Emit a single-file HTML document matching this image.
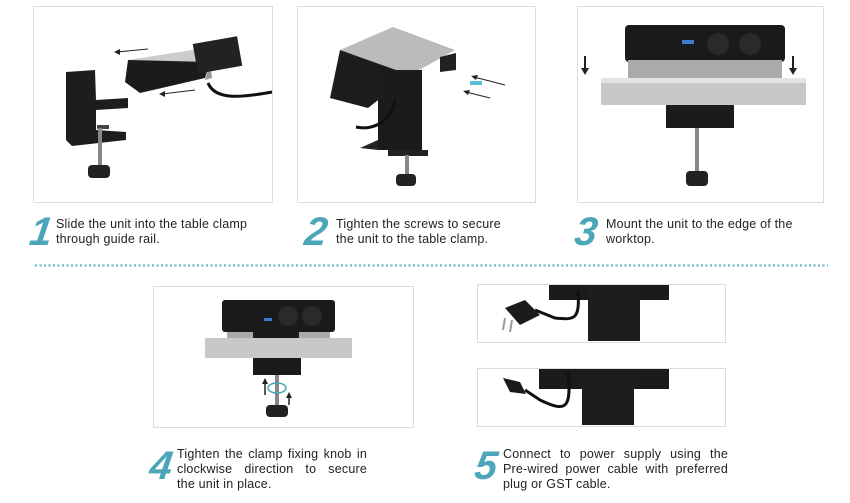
<!DOCTYPE html>
<html><head><meta charset="utf-8"><style>
body{margin:0;width:850px;height:503px;background:#fff;position:relative;overflow:hidden;font-family:"Liberation Sans",sans-serif}
.box{position:absolute;border:1px solid #dcdcdc;background:#fff}
.num{position:absolute;font:italic bold 40px "Liberation Sans",sans-serif;color:#4aa6b8;transform:skewX(-8deg)}
.t{position:absolute;font-size:12.5px;line-height:15px;color:#222;letter-spacing:0.2px}
.j{text-align:justify;text-align-last:justify;white-space:nowrap}
.j div{text-align:justify;text-align-last:justify}
.j div.l{text-align-last:left}
svg{position:absolute;left:0;top:0}
</style></head><body>
<div class="box" style="left:33px;top:6px;width:238px;height:195px"></div>
<div class="box" style="left:297px;top:6px;width:237px;height:195px"></div>
<div class="box" style="left:577px;top:6px;width:245px;height:195px"></div>
<div class="box" style="left:153px;top:286px;width:259px;height:140px"></div>
<div class="box" style="left:477px;top:284px;width:247px;height:57px"></div>
<div class="box" style="left:477px;top:368px;width:247px;height:57px"></div>

<svg width="850" height="503">
<g>
<polygon points="128,60 205,48 210,62 133,73" fill="#ccc"/>
<polygon points="128,60 125,82 140,93 205,78 210,62" fill="#1b1b1b"/>
<polygon points="210,62 212,78 205,80" fill="#999"/>
<rect x="195" y="40" width="45" height="30" fill="#222" transform="rotate(-10 217 55)"/>
<path d="M208,83 C215,100 240,98 272,92" stroke="#111" stroke-width="3" fill="none"/>
<polygon points="66,72 95,70 96,100 128,98 128,108 96,110 96,130 126,132 126,140 72,146 66,140" fill="#1d1d1d"/>
<rect x="97" y="125" width="12" height="4" fill="#444"/>
<rect x="98" y="128" width="4" height="37" fill="#888"/>
<rect x="88" y="165" width="22" height="13" rx="4" fill="#222"/>
<line x1="148" y1="49" x2="117" y2="52" stroke="#222"/><polygon points="114,52 120,49 120,55" fill="#222"/>
<line x1="195" y1="90" x2="162" y2="94" stroke="#222"/><polygon points="159,94 165,91 165,97" fill="#222"/>
</g>
<g>
<polygon points="340,50 393,27 455,50 410,75" fill="#bbb"/>
<polygon points="340,50 330,98 368,108 410,75" fill="#1d1d1d"/>
<rect x="378" y="70" width="44" height="80" fill="#1b1b1b"/>
<polygon points="378,140 360,148 378,150" fill="#222"/>
<polygon points="440,57 456,53 456,70 440,72" fill="#222"/>
<path d="M395,100 C390,125 370,130 356,127" stroke="#111" stroke-width="3" fill="none"/>
<rect x="388" y="150" width="40" height="6" fill="#222"/>
<rect x="405" y="155" width="4" height="20" fill="#888"/>
<rect x="396" y="174" width="20" height="12" rx="4" fill="#222"/>
<line x1="505" y1="85" x2="474" y2="77" stroke="#222"/><polygon points="471,76 478,75 476,80" fill="#222"/>
<line x1="490" y1="98" x2="466" y2="92" stroke="#222"/><polygon points="463,91 470,90 468,95" fill="#222"/>
<rect x="470" y="81" width="12" height="4" fill="#5bc0d6"/>
</g>
<g>
<rect x="625" y="25" width="160" height="37" rx="4" fill="#1a1a1a"/>
<circle cx="718" cy="44" r="11" fill="#2a2a2a"/><circle cx="750" cy="44" r="11" fill="#2a2a2a"/>
<rect x="682" y="40" width="12" height="4" fill="#3a7ad0"/>
<rect x="628" y="60" width="154" height="18" fill="#aaa"/>
<rect x="601" y="78" width="205" height="27" fill="#c8c8c8"/>
<rect x="601" y="78" width="205" height="5" fill="#e4e4e4"/>
<rect x="666" y="105" width="68" height="23" fill="#1b1b1b"/>
<rect x="695" y="128" width="4" height="43" fill="#888"/>
<rect x="686" y="171" width="22" height="15" rx="4" fill="#222"/>
<line x1="585" y1="56" x2="585" y2="70" stroke="#222" stroke-width="2"/><polygon points="581,68 589,68 585,75" fill="#222"/>
<line x1="793" y1="56" x2="793" y2="70" stroke="#222" stroke-width="2"/><polygon points="789,68 797,68 793,75" fill="#222"/>
</g>
<g>
<rect x="222" y="300" width="113" height="32" rx="3" fill="#1a1a1a"/>
<circle cx="288" cy="316" r="10" fill="#2a2a2a"/><circle cx="312" cy="316" r="10" fill="#2a2a2a"/>
<rect x="264" y="318" width="8" height="3" fill="#3a7ad0"/>
<rect x="227" y="332" width="103" height="10" fill="#aaa"/>
<rect x="253" y="330" width="46" height="12" fill="#1b1b1b"/>
<rect x="205" y="338" width="147" height="20" fill="#c8c8c8"/>
<rect x="253" y="358" width="48" height="17" fill="#1b1b1b"/>
<rect x="275" y="375" width="4" height="30" fill="#888"/>
<rect x="266" y="405" width="22" height="12" rx="4" fill="#222"/>
<line x1="265" y1="395" x2="265" y2="382" stroke="#222" stroke-width="1.5"/><polygon points="262,384 268,384 265,378" fill="#222"/>
<line x1="289" y1="405" x2="289" y2="396" stroke="#222" stroke-width="1.5"/><polygon points="286,398 292,398 289,392" fill="#222"/>
<ellipse cx="277" cy="388" rx="9" ry="5" fill="none" stroke="#4aa6b8" stroke-width="1.5"/>
</g>
<g>
<rect x="549" y="285" width="120" height="15" fill="#1b1b1b"/>
<rect x="588" y="285" width="52" height="56" fill="#1d1d1d"/>
<path d="M578,290 C580,320 575,320 555,318 L535,310" stroke="#111" stroke-width="3" fill="none"/>
<polygon points="505,308 525,300 540,315 520,325" fill="#1b1b1b"/>
<line x1="505" y1="318" x2="503" y2="330" stroke="#999" stroke-width="2"/><line x1="512" y1="320" x2="510" y2="332" stroke="#999" stroke-width="2"/>
<rect x="539" y="369" width="130" height="20" fill="#1b1b1b"/>
<rect x="582" y="369" width="52" height="56" fill="#1d1d1d"/>
<path d="M568,373 C572,410 565,412 540,400 L525,390" stroke="#111" stroke-width="3" fill="none"/>
<polygon points="503,378 520,382 526,394 510,392" fill="#1b1b1b"/>
</g>
<line x1="35" y1="265.5" x2="828" y2="265.5" stroke="#5ab4c6" stroke-width="2" stroke-dasharray="2 2.5"/>
</svg>

<div class="num" style="left:30px;top:210px">1</div>
<div class="t" style="left:56px;top:217px">Slide the unit into the table clamp<br>through guide rail.</div>
<div class="num" style="left:305px;top:210px">2</div>
<div class="t" style="left:336px;top:217px">Tighten the screws to secure<br>the unit to the table clamp.</div>
<div class="num" style="left:575px;top:210px">3</div>
<div class="t" style="left:606px;top:217px">Mount the unit to the edge of the<br>worktop.</div>
<div class="num" style="left:150px;top:444px">4</div>
<div class="t j" style="left:177px;top:447px;width:190px"><div>Tighten the clamp fixing knob in</div><div>clockwise direction to secure</div><div class="l">the unit in place.</div></div>
<div class="num" style="left:475px;top:444px">5</div>
<div class="t j" style="left:503px;top:447px;width:225px"><div>Connect to power supply using the</div><div>Pre-wired power cable with preferred</div><div class="l">plug or GST cable.</div></div>
</body></html>
